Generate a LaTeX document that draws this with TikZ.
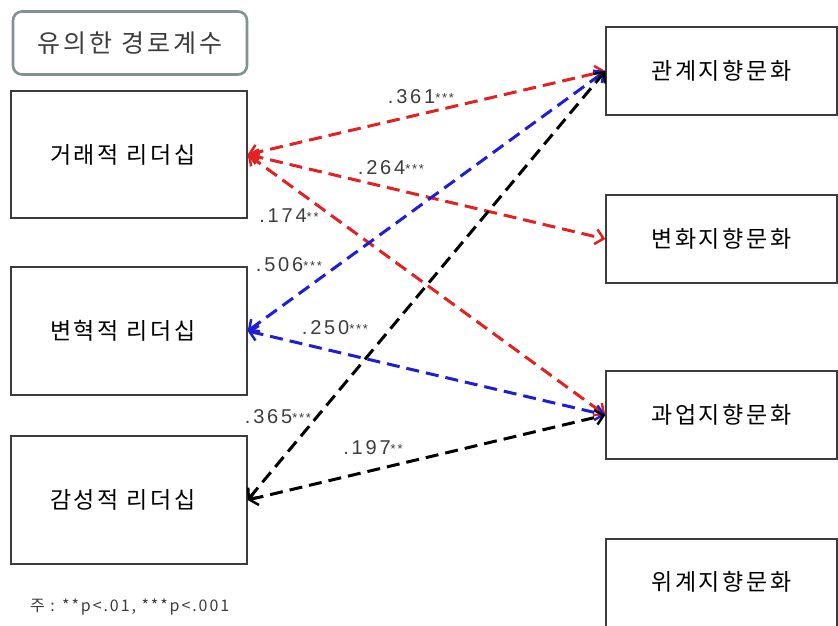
\documentclass[tikz,border=0pt]{standalone}
\usepackage{fontspec}
\setmainfont{Liberation Sans}
\newfontfamily\kr{Noto Sans CJK KR}[LetterSpace=12]
\newfontfamily\coeffont{Liberation Sans}[LetterSpace=14]
\usetikzlibrary{arrows.meta}
\definecolor{redline}{RGB}{228,32,32}
\definecolor{blueline}{RGB}{30,30,215}
\definecolor{boxline}{RGB}{60,60,60}
\definecolor{titleline}{RGB}{128,146,146}
\definecolor{labelgray}{RGB}{60,60,60}
\newcommand\stars[1]{{\fontsize{13}{13}\selectfont\raisebox{1.5pt}{#1}}}
\begin{document}
\begin{tikzpicture}[x=1pt,y=-1pt,
  box/.style={draw=boxline,line width=1.3pt,inner sep=0pt,text=black,font=\kr\fontsize{23}{26}\selectfont},
  boxtext/.style={inner sep=0pt,text=black,font=\kr\fontsize{23}{26}\selectfont},
  pathline/.style={dash pattern=on 13pt off 7pt,line width=3pt,
    {Straight Barb[length=8pt,width=15pt,line width=2.5pt]}-{Straight Barb[length=8pt,width=15pt,line width=2.5pt]}},
  coef/.style={font=\coeffont\fontsize{20}{22}\selectfont,text=labelgray,inner sep=0pt}]
\useasboundingbox (0,0) rectangle (838,626);
\clip (0,0) rectangle (838,626);
% title
\node[draw=titleline,line width=2.6pt,rounded corners=9pt,minimum width=234,minimum height=63,
      font=\kr\fontsize{25}{28}\selectfont,text=labelgray] (T) at (130,43) {유의한 경로계수};
% left boxes
\node[box,minimum width=236,minimum height=127] (L1) at (129,154.5) {\hspace{-12pt}거래적 리더십};
\node[box,minimum width=236,minimum height=128] (L2) at (129,331) {\hspace{-12pt}변혁적 리더십};
\node[box,minimum width=236,minimum height=128] (L3) at (129,500) {\hspace{-12pt}감성적 리더십};
% right boxes
\node[box,minimum width=231,minimum height=88] (R1) at (721.5,71) {관계지향문화};
\node[box,minimum width=231,minimum height=88] (R2) at (721.5,239) {변화지향문화};
\node[box,minimum width=231,minimum height=88] (R3) at (721.5,415) {과업지향문화};
\node[box,minimum width=231,minimum height=104] (R4) at (721.5,591) {};
\node[boxtext] (R4t) at (721.5,582) {위계지향문화};
% paths
\draw[pathline,redline] (L1.east) -- (R1.west);
\draw[pathline,redline] (L1.east) -- (R2.west);
\draw[pathline,redline] (L1.east) -- (R3.west);
\draw[pathline,blueline] (L2.east) -- (R1.west);
\draw[pathline,blueline] (L2.east) -- (R3.west);
\draw[pathline,black] (L3.east) -- (R1.west);
\draw[pathline,black] (L3.east) -- (R3.west);
% coefficients
\node[coef] (c1) at (421,97) {.361\stars{***}};
\node[coef] (c2) at (391,168) {.264\stars{***}};
\node[coef] (c3) at (289,216) {.174\stars{**}};
\node[coef] (c4) at (289,265) {.506\stars{***}};
\node[coef] (c5) at (335,328) {.250\stars{***}};
\node[coef] (c6) at (278,417) {.365\stars{***}};
\node[coef] (c7) at (373,448) {.197\stars{**}};
% footnote
\node[anchor=west,inner sep=0pt,font=\kr\fontsize{16}{18}\selectfont,text=labelgray] (note) at (30,607) {주 : **p<.01, ***p<.001};
\end{tikzpicture}
\end{document}
